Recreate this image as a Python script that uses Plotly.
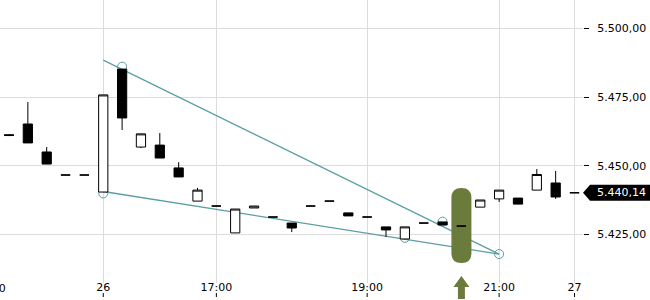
import plotly.graph_objects as go

# ---- data (15-min candles, index positions) ----
opens  = [5461.3, 5465.2, 5455.0, 5446.6, 5446.6, 5440.4, 5485.2, 5456.8, 5457.5, 5449.2,
          5437.1, 5435.3, 5425.5, 5434.6, 5431.3, 5429.1, 5435.3, 5437.1, 5432.8, 5431.3,
          5427.7, 5423.3, 5429.1, 5429.5, 5428.0, 5434.9, 5437.9, 5438.2, 5441.1, 5443.7,
          5440.14]
highs  = [5461.3, 5473.2, 5456.8, 5446.6, 5446.6, 5475.8, 5485.2, 5461.6, 5461.9, 5451.3,
          5441.9, 5435.3, 5434.2, 5435.3, 5431.3, 5429.1, 5435.3, 5437.1, 5432.8, 5431.3,
          5427.7, 5427.7, 5429.1, 5429.5, 5428.0, 5437.5, 5441.1, 5438.2, 5448.8, 5448.1,
          5440.14]
lows   = [5460.8, 5458.3, 5450.6, 5446.6, 5446.6, 5440.4, 5463.0, 5456.4, 5452.8, 5445.9,
          5437.1, 5435.3, 5425.5, 5434.6, 5431.3, 5425.8, 5435.3, 5437.1, 5431.7, 5431.3,
          5424.0, 5423.3, 5429.1, 5428.4, 5428.0, 5434.9, 5436.8, 5436.0, 5441.1, 5437.9,
          5440.14]
closes = [5461.0, 5458.3, 5450.6, 5446.6, 5446.6, 5475.8, 5467.4, 5461.6, 5452.8, 5445.9,
          5441.1, 5435.3, 5434.2, 5435.3, 5431.3, 5427.3, 5435.3, 5437.1, 5431.7, 5431.3,
          5426.6, 5427.7, 5429.1, 5428.4, 5428.0, 5437.5, 5441.1, 5436.0, 5446.8, 5438.6,
          5440.14]
x_idx = list(range(len(opens)))

xtick_vals = [5, 11, 19, 26, 30]
xtick_text = ["26", "17:00", "19:00", "21:00", "27"]
prev_tick_pos = -1
prev_tick_text = "20:00"

ytick_vals = [5425, 5450, 5475, 5500]

upper_x = [5, 26]
upper_y = [5488.5, 5417.8]
lower_x = [5, 26]
lower_y = [5440.6, 5417.8]
anchor_x = [5, 6, 21, 23, 26]
anchor_y = [5439.9, 5486.1, 5423.7, 5429.6, 5417.8]

signal_x = 24
signal_top = 5441.9
signal_bottom = 5414.5

last_price = 5440.14

x_range = [-0.4775, 30.45]
y_range = [5407.25, 5510.39]

TEAL = "#5b9fa5"
OLIVE = "#6a7b3b"
GRID = "#dcdcdc"
FONT = "DejaVu Sans"

fig = go.Figure()
fig.add_trace(go.Candlestick(
    x=x_idx, open=opens, high=highs, low=lows, close=closes,
    increasing=dict(fillcolor="white", line=dict(color="black", width=1)),
    decreasing=dict(fillcolor="black", line=dict(color="black", width=1)),
    whiskerwidth=0, hoverinfo="skip", showlegend=False,
))

shapes = []
# trend lines
for xs, ys in ((upper_x, upper_y), (lower_x, lower_y)):
    shapes.append(dict(type="line", xref="x", yref="y", x0=xs[0], y0=ys[0], x1=xs[1], y1=ys[1],
                       line=dict(color=TEAL, width=1.3), layer="between"))
# anchor circles
for ax, ay in zip(anchor_x, anchor_y):
    shapes.append(dict(type="circle", xref="x", yref="y", xsizemode="pixel", ysizemode="pixel",
                       xanchor=ax, yanchor=ay, x0=-4.5, x1=4.5, y0=-4.5, y1=4.5,
                       line=dict(color=TEAL, width=1), fillcolor="rgba(0,0,0,0)", layer="between"))
# signal capsule
r = 3.6
hw = 10
cap_path = (f"M {-hw},{signal_top - r} Q {-hw},{signal_top} 0,{signal_top} "
            f"Q {hw},{signal_top} {hw},{signal_top - r} L {hw},{signal_bottom + r} "
            f"Q {hw},{signal_bottom} 0,{signal_bottom} Q {-hw},{signal_bottom} {-hw},{signal_bottom + r} Z")
shapes.append(dict(type="path", xref="x", yref="y", xsizemode="pixel", xanchor=signal_x,
                   path=cap_path, fillcolor=OLIVE, line=dict(width=0), layer="between"))
# up arrow below axis
arrow_path = "M 0,7 L 8,-4 L 3.5,-4 L 3.5,-16 L -3.5,-16 L -3.5,-4 L -8,-4 Z"
shapes.append(dict(type="path", xref="x", yref="paper", xsizemode="pixel", ysizemode="pixel",
                   xanchor=signal_x, yanchor=0, path=arrow_path, fillcolor=OLIVE,
                   line=dict(width=0), layer="above"))
# x tick marks below labels
for tv in xtick_vals:
    shapes.append(dict(type="line", xref="x", yref="paper", ysizemode="pixel", yanchor=0,
                       x0=tv, x1=tv, y0=-10, y1=-14, line=dict(color="black", width=1)))
# last price tag
tag_path = "M 0,0 L 7,8 L 67,8 L 67,-8 L 7,-8 Z"
shapes.append(dict(type="path", xref="paper", yref="y", xsizemode="pixel", ysizemode="pixel",
                   xanchor=1, yanchor=last_price, path=tag_path, fillcolor="black",
                   line=dict(width=0), layer="above"))

price_txt = f"{last_price:,.2f}".replace(",", "X").replace(".", ",").replace("X", ".")
prev_paper_x = (prev_tick_pos - x_range[0]) / (x_range[1] - x_range[0])
annotations = [
    dict(xref="paper", yref="y", x=1, y=last_price, xanchor="left", yanchor="middle",
         xshift=12, text=price_txt, showarrow=False, font=dict(family=FONT, size=11, color="white")),
    dict(xref="paper", yref="paper", x=prev_paper_x, y=0, xanchor="center", yanchor="middle",
         yshift=-5, text=prev_tick_text, showarrow=False, font=dict(family=FONT, size=11, color="black")),
]

fig.update_layout(
    width=650, height=300,
    margin=dict(l=0, r=67, t=0, b=17),
    paper_bgcolor="white", plot_bgcolor="white",
    separators=",.",
    shapes=shapes, annotations=annotations,
    showlegend=False,
    font=dict(family=FONT, size=11, color="black"),
    xaxis=dict(range=x_range, tickmode="array", tickvals=xtick_vals, ticktext=xtick_text,
               showgrid=True, gridcolor=GRID, gridwidth=1, zeroline=False, showline=False,
               ticks="", ticklabelstandoff=-4, rangeslider=dict(visible=False),
               tickfont=dict(family=FONT, size=11, color="black")),
    yaxis=dict(range=y_range, side="right", tickmode="array", tickvals=ytick_vals,
               tickformat=",.2f", showgrid=True, gridcolor=GRID, gridwidth=1, zeroline=False,
               showline=False, ticks="outside", ticklen=5, tickcolor="black", tickwidth=1,
               ticklabelstandoff=6, tickfont=dict(family=FONT, size=11, color="black")),
)

fig.write_html("out.html")
